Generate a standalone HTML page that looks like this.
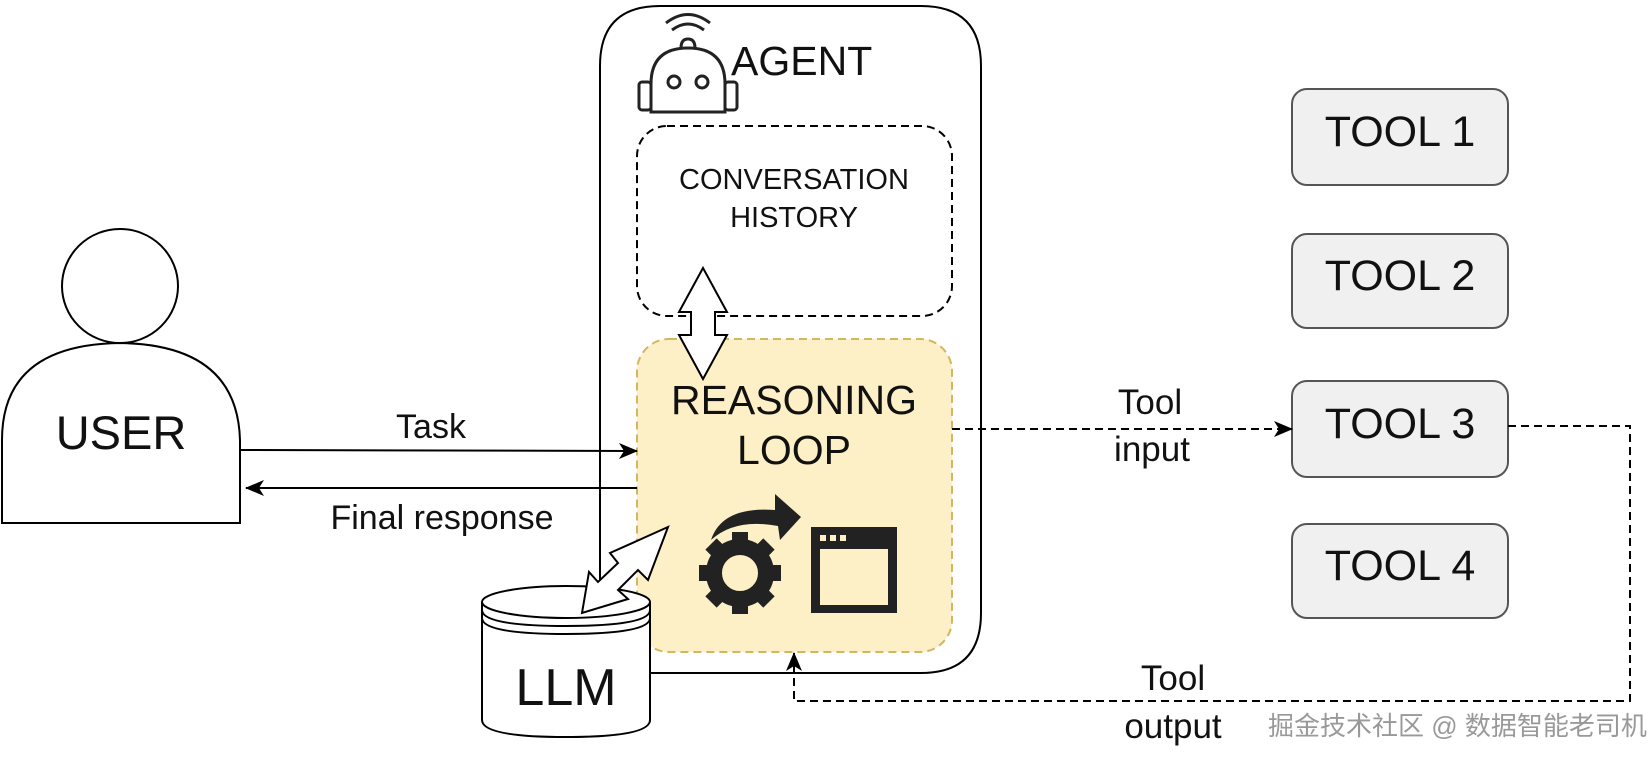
<!DOCTYPE html>
<html><head><meta charset="utf-8"><style>
html,body{margin:0;padding:0;background:#fff;}
svg{display:block;}
text{font-family:"Liberation Sans","Noto Sans CJK SC",sans-serif;fill:#111;}
</style></head><body>
<svg width="1650" height="759" viewBox="0 0 1650 759" xmlns="http://www.w3.org/2000/svg">
<defs>
<marker id="ah" markerWidth="20" markerHeight="20" refX="18" refY="10" orient="auto" markerUnits="userSpaceOnUse">
<path d="M0,2 L19,10 L0,18 L5,10 Z" fill="#000"/></marker>
</defs>
<!-- USER -->
<ellipse cx="120" cy="286" rx="58" ry="57" fill="#fff" stroke="#000" stroke-width="2"/>
<path d="M2,523 L2,440 C2,370 50,344 120,343 C190,344 238,370 240,440 L240,523 Z" fill="#fff" stroke="#000" stroke-width="2"/>
<text x="121" y="449" font-size="47" text-anchor="middle">USER</text>
<!-- Agent box -->
<path d="M600,580 L600,66 Q600,6 660,6 L921,6 Q981,6 981,66 L981,613 Q981,673 921,673 L650,673" fill="none" stroke="#000" stroke-width="2"/>
<!-- robot -->
<g fill="none" stroke="#222" stroke-width="3">
<path d="M651,112 L651,84 Q651,48 688,48 Q725,48 725,84 L725,112 Z"/>
<rect x="639" y="82" width="12" height="28" rx="3"/>
<rect x="725" y="82" width="12" height="28" rx="3"/>
<circle cx="674" cy="82" r="6"/><circle cx="702" cy="82" r="6"/>
<path d="M681,48 Q681,39 688,39 Q695,39 695,48"/>
<path d="M672,30 Q688,18 704,30"/>
<path d="M666,23 Q688,6 710,23"/>
</g>
<text x="731" y="75" font-size="41">AGENT</text>
<!-- Conversation -->
<rect x="637" y="126" width="315" height="190" rx="30" fill="#fff" stroke="#000" stroke-width="2" stroke-dasharray="8,5"/>
<text x="794" y="189" font-size="29" text-anchor="middle">CONVERSATION</text>
<text x="794" y="227" font-size="29" text-anchor="middle">HISTORY</text>
<!-- Reasoning -->
<rect x="637" y="339" width="315" height="313" rx="32" fill="#fdf0c6" stroke="#d2b660" stroke-width="2" stroke-dasharray="8,5"/>
<text x="794" y="414" font-size="41" text-anchor="middle">REASONING</text>
<text x="794" y="464" font-size="41" text-anchor="middle">LOOP</text>
<!-- vertical double arrow -->
<path d="M703,268 L727,312 L715,312 L715,335 L727,335 L703,379 L679,335 L691,335 L691,312 L679,312 Z" fill="#fff" stroke="#000" stroke-width="2"/>
<!-- gear -->
<g fill="#222" transform="translate(740,573)">
<circle r="26" fill="none" stroke="#222" stroke-width="16"/>
<rect x="-8" y="-41" width="16" height="14"/>
<rect x="-8" y="-41" width="16" height="14" transform="rotate(45)"/>
<rect x="-8" y="-41" width="16" height="14" transform="rotate(90)"/>
<rect x="-8" y="-41" width="16" height="14" transform="rotate(135)"/>
<rect x="-8" y="-41" width="16" height="14" transform="rotate(180)"/>
<rect x="-8" y="-41" width="16" height="14" transform="rotate(225)"/>
<rect x="-8" y="-41" width="16" height="14" transform="rotate(270)"/>
<rect x="-8" y="-41" width="16" height="14" transform="rotate(315)"/>
</g>
<!-- curved arrow -->
<path d="M711,540 Q722,506 775,510 L775,494 L801,517 L780,540 L778,526 Q735,518 711,540 Z" fill="#222"/>
<!-- window -->
<rect x="811" y="527" width="86" height="86" fill="#222"/>
<rect x="820" y="549" width="68" height="56" fill="#fdf0c6"/>
<rect x="820" y="535" width="6" height="6" fill="#fdf0c6"/><rect x="830" y="535" width="6" height="6" fill="#fdf0c6"/><rect x="840" y="535" width="6" height="6" fill="#fdf0c6"/>
<!-- LLM -->
<path d="M482,602 L482,720 Q482,737 566,737 Q650,737 650,720 L650,602" fill="#fff" stroke="#000" stroke-width="2"/>
<ellipse cx="566" cy="602" rx="84" ry="16" fill="#fff" stroke="#000" stroke-width="2"/>
<path d="M482,610 Q482,626 566,626 Q650,626 650,610" fill="none" stroke="#000" stroke-width="2"/>
<path d="M482,618 Q482,634 566,634 Q650,634 650,618" fill="none" stroke="#000" stroke-width="2"/>
<text x="566" y="705" font-size="52" text-anchor="middle">LLM</text>
<!-- diag double arrow -->
<path d="M582,613 L589,572 L598,582 L618,563 L610,553 L668,527 L648,580 L638,570 L618,590 L628,599 Z" fill="#fff" stroke="#000" stroke-width="2"/>
<!-- Task / Final response -->
<line x1="240" y1="450" x2="637" y2="451" stroke="#000" stroke-width="2" marker-end="url(#ah)"/>
<text x="431" y="438" font-size="34" text-anchor="middle">Task</text>
<line x1="637" y1="488" x2="246" y2="488" stroke="#000" stroke-width="2" marker-end="url(#ah)"/>
<text x="442" y="529" font-size="34" text-anchor="middle">Final response</text>
<!-- tools -->
<g fill="#f0f0f0" stroke="#555" stroke-width="2">
<rect x="1292" y="89" width="216" height="96" rx="15"/>
<rect x="1292" y="234" width="216" height="94" rx="15"/>
<rect x="1292" y="381" width="216" height="96" rx="15"/>
<rect x="1292" y="524" width="216" height="94" rx="15"/>
</g>
<g font-size="43" text-anchor="middle">
<text x="1400" y="146">TOOL 1</text>
<text x="1400" y="290">TOOL 2</text>
<text x="1400" y="438">TOOL 3</text>
<text x="1400" y="580">TOOL 4</text>
</g>
<!-- tool input -->
<line x1="952" y1="429" x2="1292" y2="429" stroke="#000" stroke-width="2" stroke-dasharray="8,5" marker-end="url(#ah)"/>
<text x="1150" y="414" font-size="35" text-anchor="middle">Tool</text>
<text x="1152" y="461" font-size="35" text-anchor="middle">input</text>
<!-- tool output -->
<path d="M1508,426 L1630,426 L1630,701 L794,701 L794,653" fill="none" stroke="#000" stroke-width="2" stroke-dasharray="8,5" marker-end="url(#ah)"/>
<text x="1173" y="690" font-size="35" text-anchor="middle">Tool</text>
<text x="1173" y="738" font-size="35" text-anchor="middle">output</text>
<text x="1268" y="735" font-size="26" style="fill:#999">掘金技术社区 @ 数据智能老司机</text>
</svg>
</body></html>
